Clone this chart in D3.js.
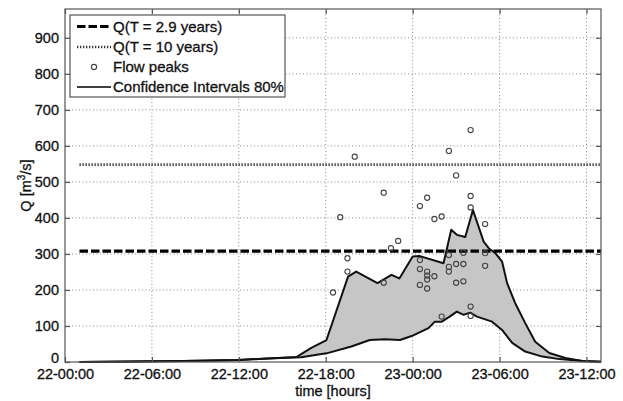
<!DOCTYPE html>
<html>
<head>
<meta charset="utf-8">
<script src="https://cdn.jsdelivr.net/npm/d3@7"></script>
<style>
  html, body { margin: 0; padding: 0; background: #fff; }
  svg { display: block; font-family: "Liberation Sans", Arial, Helvetica, sans-serif; }
</style>
</head>
<body>
<svg id="chart" width="623" height="401"></svg>
<script>
// ---- data (hours counted from 22-00:00) ----
const xTickHours = [0, 6, 12, 18, 24, 30, 36];
const xTickLabels = ["22-00:00", "22-06:00", "22-12:00", "22-18:00", "23-00:00", "23-06:00", "23-12:00"];
const yTicks = [0, 100, 200, 300, 400, 500, 600, 700, 800, 900];

const upperHours = [1, 8.2, 12, 14, 16, 17, 18.05, 19.54, 20.1, 21.57, 22.54, 23.08, 24.0, 24.5, 26.13, 26.66, 27.05, 27.63, 28.16, 28.9, 29.25, 29.71, 30.17, 30.52, 31.07, 31.77, 32.46, 33.43, 34.54, 35.72, 37];
const upperQ     = [0, 3, 5.5, 10, 14, 39, 61, 237, 251, 219, 242, 232, 293, 294, 274, 367, 353, 347, 422, 334, 316, 302, 279, 219, 164, 108, 56, 25, 11, 3, 1];

const lowerHours = [1, 8.2, 12, 14, 16.3, 18.05, 19.77, 21.04, 22.08, 23.12, 23.93, 25.09, 25.53, 26.01, 26.55, 27.05, 27.52, 27.97, 28.44, 29.48, 30.17, 30.87, 31.77, 32.95, 34.13, 35.72, 37];
const lowerQ     = [0, 3, 5.5, 10, 13, 24, 43, 61, 63, 61, 72, 94, 112, 112, 126, 140, 131, 137, 126, 112, 89, 53, 29, 15, 8, 3, 1];

const peakHours = [18.5, 19, 19.5, 19.5, 20, 22, 22, 22.5, 23,
  24.5, 24.5, 24.5, 24.5, 25, 25, 25, 25, 25, 25.5, 25.5, 26, 26,
  26.5, 26.5, 26.5, 26.5, 27, 27, 27, 27.5, 27.5, 27.5,
  28, 28, 28, 28, 28, 29, 29, 29];
const peakQ = [193, 402, 288, 251, 570, 470, 220, 316, 336,
  433, 283, 258, 214, 456, 251, 240, 229, 204, 397, 238, 404, 126,
  586, 297, 264, 251, 518, 272, 220, 303, 272, 224,
  644, 461, 429, 154, 128, 383, 302, 267];

const qT29 = 308;   // Q(T = 2.9 years)
const qT10 = 548;   // Q(T = 10 years)
const refStart = 1, refEnd = 37;

const legendLabels = ["Q(T = 2.9 years)", "Q(T = 10 years)", "Flow peaks", "Confidence Intervals 80%"];

// ---- layout ----
const svg = d3.select("#chart");
const L = 65, R = 601, T = 9, B = 362;
const x = d3.scaleLinear().domain([0, 37]).range([L, R]);
const y = d3.scaleLinear().domain([0, 980]).range([B, T]);
const fs = 14.5;
const textStroke = (sel) => sel.attr("stroke", "#111").attr("stroke-width", 0.3);

// grid
const grid = svg.append("g");
grid.selectAll("line.vx").data(xTickHours.slice(1)).join("line")
  .attr("x1", d => x(d)).attr("x2", d => x(d)).attr("y1", B).attr("y2", T)
  .attr("stroke", "#8a8a8a").attr("stroke-width", 1).attr("stroke-dasharray", "1,2.5");
grid.selectAll("line.hy").data(yTicks.slice(1)).join("line")
  .attr("x1", L).attr("x2", R).attr("y1", d => y(d)).attr("y2", d => y(d))
  .attr("stroke", "#8a8a8a").attr("stroke-width", 1).attr("stroke-dasharray", "1,2.5");

// confidence band fill
const upperPts = upperHours.map((h, i) => [h, upperQ[i]]);
const lowerPts = lowerHours.map((h, i) => [h, lowerQ[i]]);
const line = d3.line().x(d => x(d[0])).y(d => y(d[1]));
svg.append("path")
  .attr("d", line(upperPts.concat(lowerPts.slice().reverse())) + "Z")
  .attr("fill", "#c6c6c6").attr("stroke", "none");
svg.append("path").attr("d", line(lowerPts))
  .attr("fill", "none").attr("stroke", "#111").attr("stroke-width", 2).attr("stroke-linejoin", "round");
svg.append("path").attr("d", line(upperPts))
  .attr("fill", "none").attr("stroke", "#111").attr("stroke-width", 2).attr("stroke-linejoin", "round");

// reference lines
svg.append("line")
  .attr("x1", x(refStart)).attr("x2", x(refEnd)).attr("y1", y(qT29)).attr("y2", y(qT29))
  .attr("stroke", "#000").attr("stroke-width", 3.2).attr("stroke-dasharray", "8.5,3");
svg.append("line")
  .attr("x1", x(refStart)).attr("x2", x(refEnd)).attr("y1", y(qT10)).attr("y2", y(qT10))
  .attr("stroke", "#333").attr("stroke-width", 2.6).attr("stroke-dasharray", "1.3,1.7");

// flow peaks
svg.append("g").selectAll("circle").data(peakHours.map((h, i) => [h, peakQ[i]])).join("circle")
  .attr("cx", d => x(d[0])).attr("cy", d => y(d[1])).attr("r", 2.6)
  .attr("fill", "none").attr("stroke", "#444").attr("stroke-width", 1.1);

// axes box
svg.append("rect").attr("x", L).attr("y", T).attr("width", R - L).attr("height", B - T)
  .attr("fill", "none").attr("stroke", "#555").attr("stroke-width", 1.2);

// ticks (inside, all four sides) via axis generators
const tl = 5;
const xAxisB = d3.axisBottom(x).tickValues(xTickHours).tickFormat((d, i) => xTickLabels[i]).tickSizeInner(-tl).tickSizeOuter(0).tickPadding(7);
const gxb = svg.append("g").attr("transform", `translate(0,${B})`).call(xAxisB);
const xAxisT = d3.axisTop(x).tickValues(xTickHours).tickFormat("").tickSizeInner(-tl).tickSizeOuter(0);
const gxt = svg.append("g").attr("transform", `translate(0,${T})`).call(xAxisT);
const yAxisL = d3.axisLeft(y).tickValues(yTicks).tickSizeInner(-tl).tickSizeOuter(0).tickPadding(6);
const gyl = svg.append("g").attr("transform", `translate(${L},0)`).call(yAxisL);
const yAxisR = d3.axisRight(y).tickValues(yTicks).tickFormat("").tickSizeInner(-tl).tickSizeOuter(0);
const gyr = svg.append("g").attr("transform", `translate(${R},0)`).call(yAxisR);
[gxb, gxt, gyl, gyr].forEach(g => {
  g.select(".domain").remove();
  g.selectAll(".tick line").attr("stroke", "#555").attr("stroke-width", 1.2);
  g.selectAll("text").attr("font-size", fs).attr("fill", "#111")
    .attr("font-family", "'Liberation Sans', Arial, sans-serif").call(textStroke);
});
// nudge the "0" label up slightly so it does not touch the first time label
gyl.selectAll(".tick text").filter(d => d === 0).attr("dy", "0.0em");

// axis labels
svg.append("text").attr("x", (L + R) / 2).attr("y", 396).attr("text-anchor", "middle")
  .attr("font-size", fs).attr("fill", "#111").text("time [hours]").call(textStroke);
const yl = svg.append("text").attr("transform", `translate(31,${(T + B) / 2}) rotate(-90)`)
  .attr("text-anchor", "middle").attr("font-size", fs).attr("fill", "#111").call(textStroke);
yl.append("tspan").text("Q [m");
yl.append("tspan").attr("dy", -6).attr("font-size", 10).text("3");
yl.append("tspan").attr("dy", 6).text("/s]");

// legend
const lg = svg.append("g");
lg.append("rect").attr("x", 70).attr("y", 15).attr("width", 215).attr("height", 82)
  .attr("fill", "#fff").attr("stroke", "#555").attr("stroke-width", 1.2);
const rowY = [26.5, 47, 67, 87];
const sx1 = 77, sx2 = 111, tx = 113;
lg.append("line").attr("x1", sx1).attr("x2", sx2).attr("y1", rowY[0]).attr("y2", rowY[0])
  .attr("stroke", "#000").attr("stroke-width", 3.2).attr("stroke-dasharray", "8.5,3");
lg.append("line").attr("x1", sx1).attr("x2", sx2).attr("y1", rowY[1]).attr("y2", rowY[1])
  .attr("stroke", "#333").attr("stroke-width", 2.6).attr("stroke-dasharray", "1.3,1.7");
lg.append("circle").attr("cx", (sx1 + sx2) / 2).attr("cy", rowY[2]).attr("r", 2.6)
  .attr("fill", "none").attr("stroke", "#444").attr("stroke-width", 1.1);
lg.append("line").attr("x1", sx1).attr("x2", sx2).attr("y1", rowY[3]).attr("y2", rowY[3])
  .attr("stroke", "#000").attr("stroke-width", 1.5);
lg.selectAll("text").data(legendLabels).join("text")
  .attr("x", tx).attr("y", (d, i) => rowY[i]).attr("dy", "0.35em")
  .attr("font-size", 15).attr("fill", "#111").text(d => d).call(textStroke);
</script>
</body>
</html>
